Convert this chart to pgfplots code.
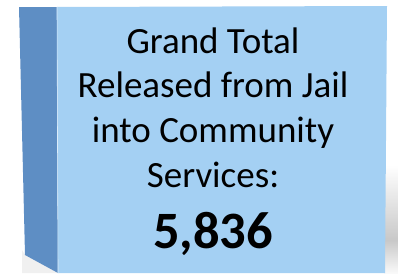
\documentclass[border=0pt]{standalone}
\usepackage{pgfplots}
\pgfplotsset{compat=1.18}
\usepackage{fontspec}
\setmainfont{Carlito}
\definecolor{front}{RGB}{164,208,243}
\definecolor{side}{RGB}{94,142,196}
\definecolor{shad}{RGB}{200,200,200}
\begin{document}
\begin{tikzpicture}
\begin{axis}[
  width=398pt, height=273pt, scale only axis,
  xmin=0, xmax=398, ymin=0, ymax=273, y dir=reverse,
  hide axis,
]
% shadow on right
\addplot[draw=none, top color=white, bottom color=shad] coordinates {(384,165) (398,165) (398,240) (384,240)} -- cycle;
\addplot[draw=none, top color=shad, bottom color=white!90!shad] coordinates {(384,240) (398,240) (398,273) (384,273)} -- cycle;
% shadow bottom-left
\addplot[draw=none, fill=gray!12] coordinates {(22,250) (25,255) (58,273) (22,273)} -- cycle;
% side face
\addplot[draw=none, fill=side] coordinates {(19,7) (57,7) (58,273) (25,255)} -- cycle;
% front face
\addplot[draw=none, fill=front] coordinates {(57,7) (387,6) (385,273) (58,273)} -- cycle;
\addplot[draw=white!60!front, line width=0.6pt] coordinates {(57,7) (58,273)};
\node[font=\fontsize{37}{37}\selectfont, anchor=base] at (axis cs:213,53) {Grand Total};
\node[font=\fontsize{37}{37}\selectfont, anchor=base] at (axis cs:213,97) {Released from Jail};
\node[font=\fontsize{37}{37}\selectfont, anchor=base] at (axis cs:213,142) {into Community};
\node[font=\fontsize{37}{37}\selectfont, anchor=base] at (axis cs:213,187) {Services:};
\node[font=\fontsize{52.5}{52.5}\selectfont\bfseries, anchor=base] at (axis cs:213,248) {5,836};
\end{axis}
\pgfresetboundingbox
\path (current axis.south west) rectangle (current axis.north east);
\end{tikzpicture}
\end{document}
